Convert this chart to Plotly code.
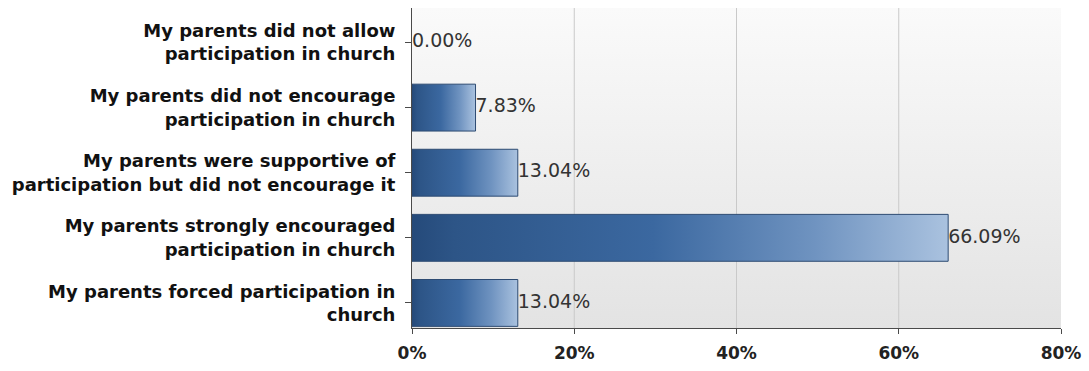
import plotly.graph_objects as go

# Survey responses (top to bottom) and their shares in percent
categories = [
    "My parents did not allow<br>participation in church",
    "My parents did not encourage<br>participation in church",
    "My parents were supportive of<br>participation but did not encourage it",
    "My parents strongly encouraged<br>participation in church",
    "My parents forced participation in<br>church",
]
values = [0.00, 7.83, 13.04, 66.09, 13.04]
x_ticks = [0, 20, 40, 60, 80]
x_tick_labels = ["0%", "20%", "40%", "60%", "80%"]

FONT = "DejaVu Sans"
BAR_H = 0.72
Y_RANGE = [4.385, -0.53]
X_RANGE = [0, 80]

bar_scale = [
    [0.0, "#254a7a"],
    [0.08, "#2d5587"],
    [0.45, "#3b68a0"],
    [0.75, "#6f93c0"],
    [1.0, "#aac2df"],
]

fig = go.Figure()

# plot-area backdrop: light vertical gradient, paler at the top
fig.add_trace(go.Scatter(
    x=[X_RANGE[0], X_RANGE[1], X_RANGE[1], X_RANGE[0], X_RANGE[0]],
    y=[Y_RANGE[1], Y_RANGE[1], Y_RANGE[0], Y_RANGE[0], Y_RANGE[1]],
    mode="none", fill="toself",
    fillgradient=dict(type="vertical",
                      colorscale=[[0, "#e3e3e3"], [1, "#fafafa"]]),
    hoverinfo="skip", showlegend=False,
))

# vertical grid lines at the inner ticks
gx, gy = [], []
for t in x_ticks[1:-1]:
    gx += [t, t, None]
    gy += [Y_RANGE[1], Y_RANGE[0], None]
fig.add_trace(go.Scatter(
    x=gx, y=gy, mode="lines",
    line=dict(color="#c9c9c9", width=1),
    hoverinfo="skip", showlegend=False,
))

# gradient-filled horizontal bars
for i, v in enumerate(values):
    if v <= 0:
        continue
    y0, y1 = i - BAR_H / 2, i + BAR_H / 2
    fig.add_trace(go.Scatter(
        x=[0, v, v, 0, 0],
        y=[y0, y0, y1, y1, y0],
        mode="lines", fill="toself",
        line=dict(color="#2d4b72", width=1),
        fillgradient=dict(type="horizontal", colorscale=bar_scale),
        hoverinfo="skip", showlegend=False,
    ))

# value labels at the end of each bar
fig.add_trace(go.Scatter(
    x=values, y=list(range(len(values))),
    mode="text",
    text=[f"{v:.2f}%" for v in values],
    textposition="middle right",
    textfont=dict(family=FONT, size=19, color="#333333"),
    hoverinfo="skip", showlegend=False,
))

fig.update_layout(
    width=1089, height=371,
    margin=dict(l=412, r=22, t=8, b=43),
    paper_bgcolor="white", plot_bgcolor="white",
    showlegend=False,
    xaxis=dict(
        range=X_RANGE, tickvals=x_ticks, ticktext=x_tick_labels,
        showgrid=False, zeroline=False,
        showline=True, linecolor="#4a4a4a", linewidth=1,
        ticks="outside", ticklen=5, tickcolor="#4a4a4a",
        ticklabelstandoff=5,
        tickfont=dict(family=FONT, size=17, color="#222222", weight="bold"),
        fixedrange=True,
    ),
    yaxis=dict(
        range=Y_RANGE, tickvals=list(range(len(categories))),
        ticktext=categories,
        showgrid=False, zeroline=False,
        showline=True, linecolor="#4a4a4a", linewidth=1,
        ticks="outside", ticklen=6, tickcolor="#4a4a4a",
        ticklabelstandoff=6,
        tickfont=dict(family=FONT, size=18, color="#111111", weight="bold"),
        fixedrange=True,
    ),
)

fig.write_html("out.html")
